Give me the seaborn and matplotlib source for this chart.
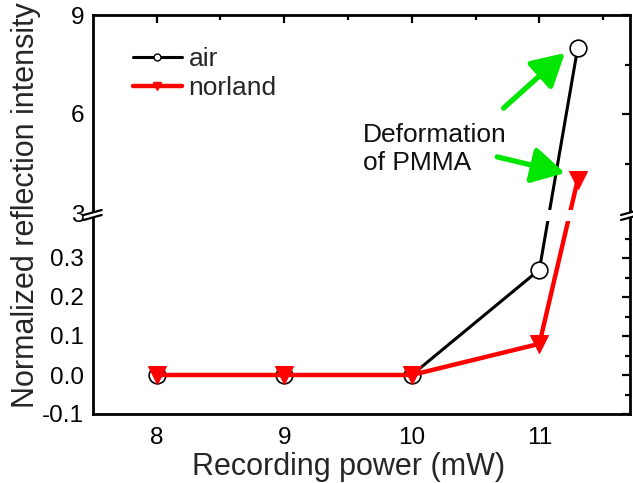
import numpy as np
import matplotlib
matplotlib.use("Agg")
import matplotlib.pyplot as plt
from matplotlib.lines import Line2D
from matplotlib.patches import Polygon
import seaborn as sns

# Recording power (mW) and normalized reflection intensity for each cover medium
power = [8, 9, 10, 11, 11.3]
air = [0.0, 0.0, 0.0, 0.27, 8.0]
norland = [0.0, 0.0, 0.0, 0.08, 4.0]

major_ticks = [-0.1, 0.0, 0.1, 0.2, 0.3, 3, 6, 9]
major_labels = ["-0.1", "0.0", "0.1", "0.2", "0.3", "3", "6", "9"]
minor_ticks = [-0.05, 0.05, 0.15, 0.25, 0.35, 4.5, 7.5]
x_ticks = [8, 9, 10, 11]
x_minor = [8.5, 9.5, 10.5, 11.5]

sns.set_style("white")
plt.rcParams["font.family"] = ["Liberation Sans", "DejaVu Sans"]


# broken y axis: -0.1..0.4 below the break, 3..9 above it
def fwd(y):
    y = np.asarray(y, dtype=float)
    return np.where(y <= 0.4, (y + 0.1) * 390.0,
                    np.where(y < 3.0, 195.0 + (y - 0.4) / 2.6 * 6.0,
                             201.0 + (y - 3.0) * 33.0))


def inv(u):
    u = np.asarray(u, dtype=float)
    return np.where(u <= 195.0, u / 390.0 - 0.1,
                    np.where(u < 201.0, 0.4 + (u - 195.0) / 6.0 * 2.6,
                             3.0 + (u - 201.0) / 33.0))


fig = plt.figure(figsize=(6.33, 4.83), dpi=100)
ax = fig.add_axes([92.7 / 633, 1 - 414 / 483, (630 - 92.7) / 633, (414 - 15) / 483])
ax.set_yscale("function", functions=(fwd, inv))

sns.lineplot(x=power, y=air, ax=ax, color="black", lw=2.2, marker="o",
             markersize=12, markerfacecolor="white", markeredgecolor="black",
             markeredgewidth=1.2, zorder=2)
sns.lineplot(x=power, y=norland, ax=ax, color="#ff0000", lw=3.2, marker="v",
             markersize=13, markerfacecolor="#ff0000", markeredgecolor="#ff0000",
             zorder=2.1)

ax.set_xlim(7.5, 11.71)
ax.set_ylim(-0.1, 9)
ax.set_xticks(x_ticks)
ax.set_xticks(x_minor, minor=True)
ax.set_yticks(major_ticks)
ax.set_yticklabels(major_labels)
ax.set_yticks(minor_ticks, minor=True)
ax.yaxis.set_minor_formatter(plt.NullFormatter())

for s in ax.spines.values():
    s.set_linewidth(2.0)
    s.set_color("black")
ax.tick_params(which="both", direction="in", top=True, right=True,
               width=1.6, colors="black", labelsize=17.5)
ax.tick_params(which="major", length=6)
ax.tick_params(which="minor", length=3.5)
ax.tick_params(axis="y", pad=6)
ax.tick_params(axis="x", pad=9)

ax.set_xlabel("Recording power (mW)", fontsize=22)
ax.set_ylabel("Normalized reflection intensity", fontsize=22)
ax.xaxis.set_label_coords(0.477, -0.095)
ax.yaxis.set_label_coords(-0.096, 0.524)

# gap in the data lines at the axis break
ax.axhspan(0.395, 3.08, color="white", zorder=2.3, lw=0)

# break marks on both vertical spines
W, H = 537.3, 399.0
yc = (414 - 215) / H
dx, dy, sep = 9 / W, 2.5 / H, 5 / H
for xs in (0.0, 1.0):
    poly = Polygon([(xs - dx, yc - sep / 2 - dy), (xs + dx, yc - sep / 2 + dy),
                    (xs + dx, yc + sep / 2 + dy), (xs - dx, yc + sep / 2 - dy)],
                   closed=True, facecolor="white", edgecolor="none",
                   transform=ax.transAxes, clip_on=False, zorder=3)
    ax.add_patch(poly)
    for off in (-sep / 2, sep / 2):
        ax.plot([xs - dx, xs + dx], [yc + off - dy, yc + off + dy], color="black",
                lw=1.6, transform=ax.transAxes, clip_on=False, zorder=4)

# annotation arrows
green = "#00e600"
arrow = dict(arrowstyle="-|>,head_length=0.9,head_width=0.5", color=green,
             lw=3.8, mutation_scale=22, shrinkA=0, shrinkB=0)
ax.annotate("", xy=(11.20, 7.85), xytext=(10.72, 6.18), arrowprops=arrow, zorder=5)
ax.annotate("", xy=(11.20, 4.21), xytext=(10.67, 4.70), arrowprops=arrow, zorder=5)
ax.text(9.62, 4.94, "Deformation\nof PMMA", fontsize=19, ha="left", va="center",
        color="#111111", zorder=6)

handles = [
    Line2D([], [], color="black", lw=2.2, marker="o", markersize=5,
           markerfacecolor="white", markeredgecolor="black"),
    Line2D([], [], color="#ff0000", lw=3.2, marker="v", markersize=6,
           markerfacecolor="#ff0000", markeredgecolor="#ff0000"),
]
ax.legend(handles, ["air", "norland"], loc="upper left",
          bbox_to_anchor=(0.075, 0.92), frameon=False, fontsize=19,
          borderpad=0, borderaxespad=0, handlelength=1.85, handletextpad=0.25,
          labelspacing=0.2)

fig.savefig("out.png", dpi=100)
